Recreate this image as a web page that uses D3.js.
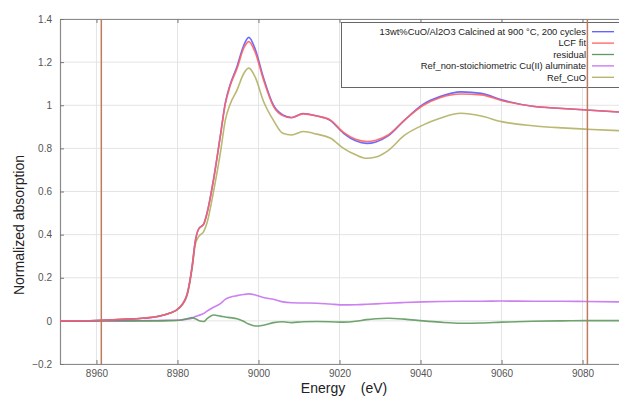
<!DOCTYPE html>
<html><head><meta charset="utf-8">
<script src="https://cdn.jsdelivr.net/npm/d3@7"></script>
<style>body{margin:0;background:#fff}svg{display:block}</style>
</head><body>
<svg id="c" width="619" height="398"></svg>
<script>
const energy = [8951, 8960, 8968, 8972, 8975, 8978, 8980.5, 8982.4, 8983.6, 8984.4, 8985.2, 8986.5, 8987.3, 8988.9, 8990.6, 8991.8, 8993, 8994.7, 8996.3, 8997.6, 8999.2, 9001.2, 9003.7, 9006, 9008.2, 9011, 9014.4, 9017.7, 9021, 9024, 9026.7, 9029, 9032, 9036, 9040.7, 9044.8, 9050, 9055, 9060, 9067.7, 9075, 9081, 9089];
const sample = [0.0, 0.002, 0.008, 0.013, 0.02, 0.035, 0.062, 0.125, 0.25, 0.37, 0.425, 0.45, 0.5, 0.655, 0.86, 1.01, 1.095, 1.18, 1.275, 1.315, 1.26, 1.13, 1.0, 0.955, 0.943, 0.962, 0.95, 0.93, 0.87, 0.835, 0.823, 0.83, 0.858, 0.93, 1.005, 1.04, 1.062, 1.055, 1.025, 0.995, 0.985, 0.978, 0.969];
const lcfFit = [0.0, 0.002, 0.008, 0.013, 0.02, 0.035, 0.062, 0.125, 0.25, 0.37, 0.425, 0.45, 0.5, 0.655, 0.86, 1.005, 1.09, 1.17, 1.262, 1.295, 1.245, 1.12, 0.995, 0.952, 0.942, 0.96, 0.95, 0.932, 0.874, 0.842, 0.832, 0.838, 0.862, 0.93, 1.0, 1.035, 1.052, 1.048, 1.022, 0.995, 0.985, 0.978, 0.969];
const residual = [0.0, 0.0, 0.0, 0.0, 0.0, 0.001, 0.003, 0.01, 0.015, 0.01, 0.002, -0.003, 0.01, 0.027, 0.022, 0.018, 0.015, 0.01, -0.002, -0.015, -0.024, -0.02, -0.008, -0.004, -0.008, -0.004, -0.003, -0.004, -0.006, -0.002, 0.006, 0.01, 0.012, 0.008, 0.0, -0.006, -0.011, -0.01, -0.006, -0.002, 0.0, 0.001, 0.001];
const refAluminate = [0.0, 0.0, 0.0, 0.001, 0.002, 0.003, 0.004, 0.008, 0.012, 0.02, 0.025, 0.035, 0.045, 0.063, 0.08, 0.1, 0.11, 0.117, 0.122, 0.125, 0.12, 0.108, 0.1, 0.088, 0.084, 0.083, 0.082, 0.078, 0.074, 0.075, 0.077, 0.079, 0.082, 0.085, 0.088, 0.09, 0.091, 0.091, 0.092, 0.091, 0.091, 0.09, 0.088];
const refCuO = [0.0, 0.002, 0.008, 0.013, 0.02, 0.035, 0.06, 0.12, 0.24, 0.355, 0.39, 0.415, 0.455, 0.6, 0.78, 0.93, 1.005, 1.07, 1.145, 1.172, 1.13, 1.02, 0.93, 0.87, 0.862, 0.878, 0.866, 0.848, 0.8, 0.77, 0.754, 0.76, 0.79, 0.86, 0.909, 0.94, 0.963, 0.95, 0.924, 0.905, 0.895, 0.889, 0.882];
const seriesNames = ["13wt%CuO/Al2O3 Calcined at 900 °C, 200 cycles", "LCF fit", "residual", "Ref_non-stoichiometric Cu(II) aluminate", "Ref_CuO"];
const seriesColors = ["#5b5bff", "#ff6262", "#5f9a5f", "#c673f0", "#b3b062"];
const xTicks = [8960, 8980, 9000, 9020, 9040, 9060, 9080];
const yTicks = [-0.2, 0, 0.2, 0.4, 0.6, 0.8, 1, 1.2, 1.4];
const markers = [8961.2, 9081.2];

const svg = d3.select("#c");
const L = 60, R = 619, T = 19, B = 364;
const x = d3.scaleLinear().domain([8951, 9089]).range([L, R]);
const y = d3.scaleLinear().domain([-0.2, 1.4]).range([B, T]);
const font = "'Liberation Sans', Arial, sans-serif";

// grid
svg.append("g").selectAll("line").data(xTicks).join("line")
  .attr("x1", d => x(d)).attr("x2", d => x(d)).attr("y1", T).attr("y2", B)
  .attr("stroke", "#e4e4e4").attr("stroke-width", 1);
svg.append("g").selectAll("line").data(yTicks).join("line")
  .attr("x1", L).attr("x2", R).attr("y1", d => y(d)).attr("y2", d => y(d))
  .attr("stroke", "#e4e4e4").attr("stroke-width", 1);

// axes
const axB = svg.append("g").attr("transform", `translate(0,${B})`)
  .call(d3.axisBottom(x).tickValues(xTicks).tickFormat(d3.format("d")).tickSizeInner(-4).tickSizeOuter(0).tickPadding(6));
const axT = svg.append("g").attr("transform", `translate(0,${T})`)
  .call(d3.axisTop(x).tickValues(xTicks).tickFormat("").tickSizeInner(-4).tickSizeOuter(0));
const axL = svg.append("g").attr("transform", `translate(${L},0)`)
  .call(d3.axisLeft(y).tickValues(yTicks).tickFormat(d => d3.format("")(+d.toFixed(1))).tickSizeInner(-4).tickSizeOuter(0).tickPadding(8));
[axB, axT, axL].forEach(a => {
  a.select(".domain").attr("stroke", "#8a8a8a").attr("stroke-width", 1.2);
  a.selectAll(".tick line").attr("stroke", "#777");
  a.selectAll("text").attr("font-family", font).attr("font-size", 10).attr("fill", "#555");
});

// lines
const clip = svg.append("clipPath").attr("id", "pc").append("rect")
  .attr("x", L).attr("y", T).attr("width", R - L).attr("height", B - T);
const line = d3.line().x((d, i) => x(energy[i])).y(d => y(d)).curve(d3.curveMonotoneX);
const data = [sample, lcfFit, residual, refAluminate, refCuO];
const order = [4, 3, 2, 0, 1];
const g = svg.append("g").attr("clip-path", "url(#pc)");
order.forEach(k => {
  g.append("path").attr("d", line(data[k])).attr("fill", "none")
    .attr("stroke", seriesColors[k]).attr("stroke-width", 1.6).attr("stroke-opacity", 0.9);
});

// legend
const lg = svg.append("g");
lg.append("rect").attr("x", 341.5).attr("y", 22.5).attr("width", 300).attr("height", 65)
  .attr("fill", "#fff").attr("stroke", "#666").attr("stroke-width", 1);
seriesNames.forEach((n, i) => {
  const yy = 31.7 + i * 11.4;
  lg.append("text").attr("x", 586).attr("y", yy).attr("dy", "0.35em")
    .attr("text-anchor", "end").attr("font-family", font).attr("font-size", 9.4)
    .attr("fill", "#222").text(n);
  lg.append("line").attr("x1", 592).attr("x2", 614).attr("y1", yy).attr("y2", yy)
    .attr("stroke", seriesColors[i]).attr("stroke-width", 1.3);
});

// vertical markers
svg.append("g").selectAll("line").data(markers).join("line")
  .attr("x1", d => x(d)).attr("x2", d => x(d)).attr("y1", T).attr("y2", B)
  .attr("stroke", "#c07a5e").attr("stroke-width", 1.5);

// titles
svg.append("text").attr("transform", "translate(24,225) rotate(-90)")
  .attr("text-anchor", "middle").attr("font-family", font).attr("font-size", 14)
  .attr("fill", "#222").text("Normalized absorption");
svg.append("text").attr("x", 344).attr("y", 393).attr("text-anchor", "middle")
  .attr("font-family", font).attr("font-size", 14).attr("fill", "#222")
  .attr("xml:space", "preserve").style("white-space", "pre").text("Energy    (eV)");
</script>
</body></html>
